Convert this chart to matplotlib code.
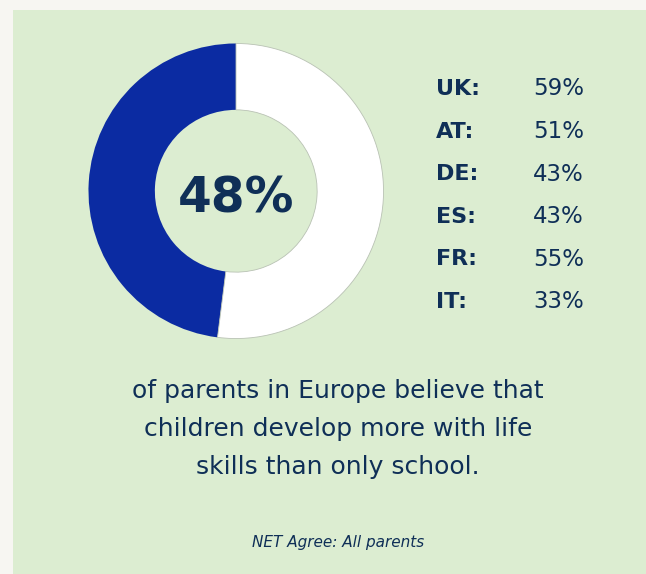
import matplotlib
matplotlib.use('Agg')
from matplotlib import pyplot as plt
from matplotlib.patches import Rectangle

# Share of parents agreeing (NET Agree), Europe overall and by country
overall = 48
countries = ['UK', 'AT', 'DE', 'ES', 'FR', 'IT']
country_values = [59, 51, 43, 43, 55, 33]
caption_lines = ['of parents in Europe believe that',
                 'children develop more with life',
                 'skills than only school.']
footnote = 'NET Agree: All parents'

W, H = 646, 574
OUTER_BG = '#f7f6f2'
PANEL_BG = '#dcedd1'
BLUE = '#0b2ba2'
NAVY = '#0f2f57'

plt.rcParams['font.family'] = 'DejaVu Sans'

fig = plt.figure(figsize=(W / 100, H / 100), dpi=100)
fig.patch.set_facecolor(OUTER_BG)

def fx(x):
	return x / W

def fy(y):
	# y measured from the top in pixels
	return 1 - y / H

# green panel (below the donut axes)
fig.patches.append(Rectangle((fx(13), 0), 1 - fx(13), fy(10), transform=fig.transFigure,
	facecolor=PANEL_BG, edgecolor='none', zorder=-5))

# donut
cx, cy, r = 236, 191, 149
ax = fig.add_axes([fx(cx - r), fy(cy + r), 2 * r / W, 2 * r / H])
ax.set_facecolor('none')
wedges, _ = ax.pie([overall, 100 - overall], startangle=90, counterclock=True,
	colors=[BLUE, 'white'], wedgeprops=dict(width=0.45, linewidth=0))
wedges[1].set_edgecolor('#b9c2b4')
wedges[1].set_linewidth(0.6)
ax.set_xlim(-1.01, 1.01)
ax.set_ylim(-1.01, 1.01)
ax.axis('off')

fig.text(fx(cx), fy(199), '%d%%' % overall, ha='center', va='center',
	fontsize=35, fontweight='bold', color=NAVY)

# country list
row_y = 89
for name, val in zip(countries, country_values):
	fig.text(fx(436), fy(row_y), name + ':', ha='left', va='center',
		fontsize=16, fontweight='bold', color=NAVY)
	fig.text(fx(533), fy(row_y), '%d%%' % val, ha='left', va='center',
		fontsize=16.5, color=NAVY)
	row_y += 42.6

# caption
line_y = 391
for line in caption_lines:
	fig.text(fx(338), fy(line_y), line, ha='center', va='center',
		fontsize=18, color=NAVY)
	line_y += 38

fig.text(fx(338), fy(543), footnote, ha='center', va='center',
	fontsize=11, style='italic', color=NAVY)

fig.savefig('out.png', dpi=100, facecolor=OUTER_BG)
